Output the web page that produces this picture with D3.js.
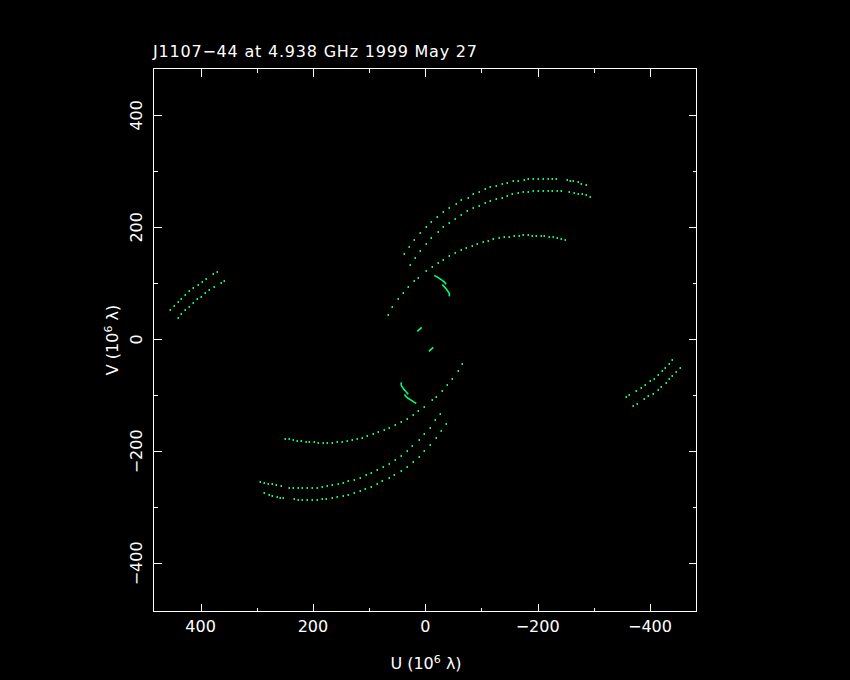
<!DOCTYPE html>
<html>
<head>
<meta charset="utf-8">
<script src="https://cdn.jsdelivr.net/npm/d3@7"></script>
<style>
html,body{margin:0;padding:0;background:#000;}
svg{display:block;background:#000;}
text{font-family:"DejaVu Sans ExtraLight","DejaVu Sans","Liberation Sans",sans-serif;fill:#fff;font-size:16px;}
</style>
</head>
<body>
<svg id="chart" width="850" height="680"></svg>
<script>
// ---------- data (u, v in units of 10^6 wavelengths) ----------
const titleText = "J1107\u221244 at 4.938 GHz 1999 May 27";
const xLabel = ["U (10", "6", " \u03bb)"];
const yLabel = ["V (10", "6", " \u03bb)"];
const xTickValues = [400, 200, 0, -200, -400];
const xTickLabels = ["400", "200", "0", "\u2212200", "\u2212400"];
const yTickValues = [400, 200, 0, -200, -400];
const yTickLabels = ["400", "200", "0", "\u2212200", "\u2212400"];
const minorTickValues = [400, 300, 200, 100, 0, -100, -200, -300, -400];

// long-baseline dotted tracks (upper half; the conjugate points -u,-v are also plotted)
const trackLow = [[65.9,43.4],[58.7,57.1],[48.1,71.4],[39.2,82.1],[30.3,92.8],[19.6,103.5],[12.5,108.8],
  [-1.8,121.3],[-12.5,128.5],[-22.6,135.6],[-32,142],[-42.7,148.1],[-53.4,153.4],[-64.1,158.8],[-73,162.4],
  [-83.7,165.9],[-92.6,169.5],[-103.3,173.1],[-112.2,175.9],[-121.1,178.4],[-130.7,180.2],[-139.6,182],
  [-148.5,183],[-157.4,183.8],[-166.3,184.3],[-174.5,185.6],[-182.3,185.6],[-190.5,184.8],[-197.6,183.8],
  [-206.5,183.8],[-211.9,183.8],[-220.8,182],[-227.9,182],[-235,180.2],[-242.1,178.4],[-249.2,177.2]];
const trackMid = [[26.7,133.1],[17.8,144.5],[8.9,158.1],[-1.8,169.5],[-10.7,180.2],[-23.1,190.9],[-32,199.8],
  [-42.7,208],[-53.4,215.2],[-64.1,221.8],[-74.8,228.4],[-85.5,233.7],[-96.1,238.4],[-106.3,242.6],
  [-115.7,247.3],[-126.4,250.8],[-137.1,253.3],[-146,255.7],[-154.9,258.7],[-165.6,260.5],[-174.5,262.3],
  [-183.4,263.3],[-192.3,265.1],[-201.2,265.1],[-210.1,265.8],[-219,265.8],[-226.1,265.8],[-235,265.1],
  [-242.1,264.6],[-256.4,262.3],[-265.3,260.5],[-272.4,258.7],[-279.5,258.7],[-286.6,256.9],[-293.8,254.4]];
const trackHigh = [[37.4,151.7],[28.5,164.1],[19.6,176.6],[8.9,189.1],[-1.8,199.8],[-10.7,209.3],[-21.4,218.7],
  [-32,227.7],[-42.7,234.8],[-55.2,241.9],[-64.1,248],[-76.6,253.3],[-85.5,258.7],[-96.1,262.8],[-106.8,267.6],
  [-115.7,271.2],[-126.4,274],[-137.1,277.1],[-146,279.4],[-156.7,281.9],[-165.6,283],[-176.2,284.7],
  [-183.4,285.5],[-192.3,286],[-201.2,286.5],[-210.1,286.5],[-219,286.5],[-226.1,286],[-233.2,285.5],
  [-252.8,283.7],[-258.1,282.4],[-263.5,281.9],[-272.4,280.1],[-277.7,278.3],[-286.6,274.8]];
const trackEdge1 = [[454,51.7],[446.9,58.9],[439.7,66],[434.4,71.4],[428.3,78.5],[420.2,85.6],[414.1,91],
  [405.2,97.4],[397,101.7],[389.9,107],[377.4,116],[370.3,119.5]];
const trackEdge2 = [[439.7,37.5],[434.4,44.6],[427.3,51.7],[421.2,57.1],[414.1,64.2],[407,71.4],[399.9,74.9],
  [391.7,82.1],[384.5,87.4],[375.6,92.8],[363.2,99.9],[357.8,103.5]];

// short-baseline continuous tracks
const arcShortA = [[-16,114.2],[-21.4,111.2],[-26.2,108.1],[-31.5,104.5],[-35.1,101],[-36.9,98.1]];
const arcShortB = [[-30.3,98.1],[-33.8,93.8],[-38.1,89.2],[-40.9,84.9],[-42.7,82.1],[-42.7,76.7]];
const arcShortC = [[14.2,14.3],[10.3,17.8],[6.4,21.4]];

const dotTracks = [trackLow, trackMid, trackHigh, trackEdge1, trackEdge2];
const lineTracks = [arcShortA, arcShortB, arcShortC];
const markColor = "#00ff80";

// ---------- scales ----------
const svg = d3.select("#chart");
const x = d3.scaleLinear().domain([484.2, -482.5]).range([153.3, 696.3]);
const y = d3.scaleLinear().domain([-485, 484]).range([611, 68.3]);
const L = 153.5, R = 696.5, T = 68.5, B = 611.5;

// frame
svg.append("rect").attr("x", L).attr("y", T).attr("width", R - L).attr("height", B - T)
  .attr("fill", "none").attr("stroke", "#fff").attr("stroke-width", 1).attr("shape-rendering", "crispEdges");

// ticks via d3 axes
function tickAxis(axisFn, scale, vals, size, tx, ty) {
  const g = svg.append("g").attr("transform", `translate(${tx},${ty})`)
    .call(axisFn(scale).tickValues(vals).tickSizeInner(size).tickSizeOuter(0).tickFormat(""));
  g.select(".domain").remove();
  g.selectAll("line").attr("stroke", "#fff").attr("shape-rendering", "crispEdges");
  return g;
}
// major
tickAxis(d3.axisBottom, x, xTickValues, -8, 0, B);
tickAxis(d3.axisTop, x, xTickValues, -8, 0, T);
tickAxis(d3.axisLeft, y, yTickValues, -8, L, 0);
tickAxis(d3.axisRight, y, yTickValues, -8, R, 0);
// minor
const minX = minorTickValues.filter(v => !xTickValues.includes(v));
const minY = minorTickValues.filter(v => !yTickValues.includes(v));
tickAxis(d3.axisBottom, x, minX, -4, 0, B);
tickAxis(d3.axisTop, x, minX, -4, 0, T);
tickAxis(d3.axisLeft, y, minY, -4, L, 0);
tickAxis(d3.axisRight, y, minY, -4, R, 0);

// tick labels
svg.append("g").selectAll("text").data(xTickValues).join("text")
  .attr("x", d => x(d)).attr("y", 632).attr("text-anchor", "middle")
  .text((d, i) => xTickLabels[i]);
svg.append("g").selectAll("text").data(yTickValues).join("text")
  .attr("transform", d => `translate(142,${y(d)}) rotate(-90)`).attr("text-anchor", "middle")
  .text((d, i) => yTickLabels[i]);

// axis titles
const xt = svg.append("text").attr("x", 426).attr("y", 669).attr("text-anchor", "middle");
xt.append("tspan").text(xLabel[0]);
xt.append("tspan").attr("dy", -6).attr("font-size", "11px").text(xLabel[1]);
xt.append("tspan").attr("dy", 6).text(xLabel[2]);
const yt = svg.append("text").attr("transform", "translate(118,340) rotate(-90)").attr("text-anchor", "middle");
yt.append("tspan").text(yLabel[0]);
yt.append("tspan").attr("dy", -6).attr("font-size", "11px").text(yLabel[1]);
yt.append("tspan").attr("dy", 6).text(yLabel[2]);

// title
svg.append("text").attr("x", 153).attr("y", 57).attr("textLength", 324)
  .attr("lengthAdjust", "spacing").text(titleText);

// marks
const plot = svg.append("g");
dotTracks.forEach(tr => {
  const pts = tr.concat(tr.map(p => [-p[0], -p[1]]));
  plot.append("g").selectAll("rect").data(pts).join("rect")
    .attr("x", d => Math.round(x(d[0])) - 0.5).attr("y", d => Math.round(y(d[1])) - 1)
    .attr("width", 1.5).attr("height", 2).attr("fill", markColor);
});
const line = d3.line().x(d => x(d[0])).y(d => y(d[1])).curve(d3.curveCatmullRom);
lineTracks.forEach(tr => {
  [tr, tr.map(p => [-p[0], -p[1]])].forEach(t => {
    plot.append("path").attr("d", line(t)).attr("fill", "none")
      .attr("stroke", markColor).attr("stroke-width", 1.6);
  });
});
</script>
</body>
</html>
